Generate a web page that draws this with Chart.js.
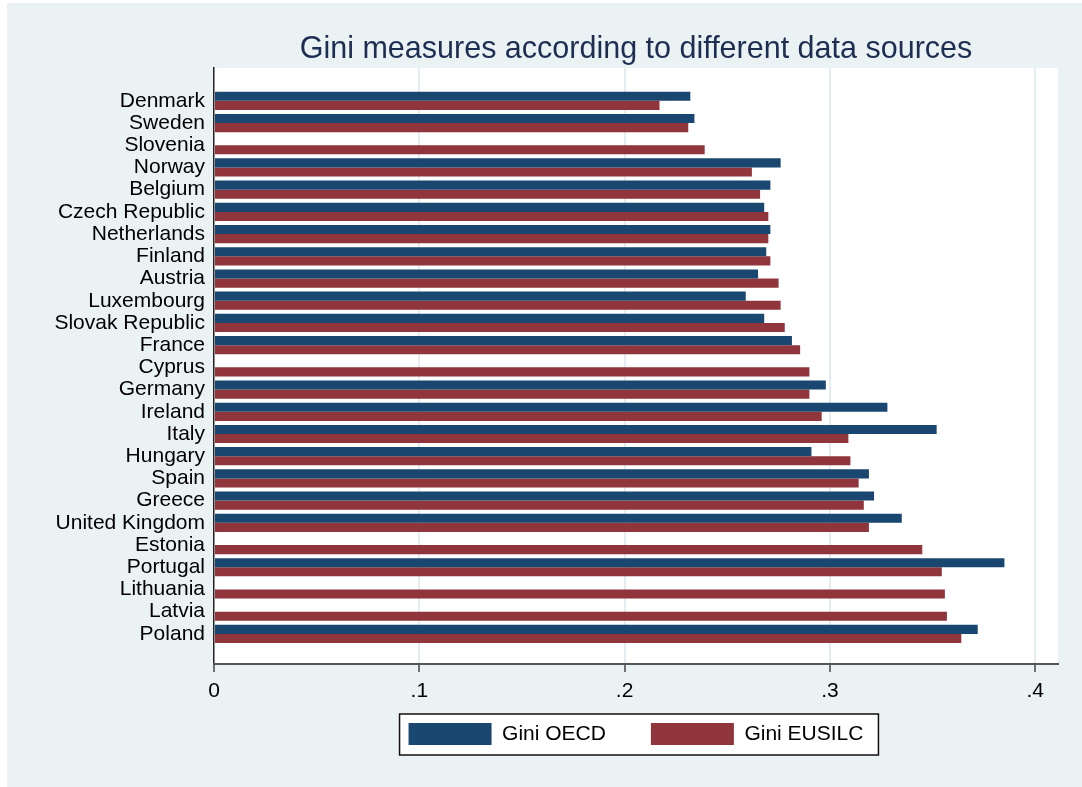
<!DOCTYPE html>
<html>
<head>
<meta charset="utf-8">
<script src="https://cdn.jsdelivr.net/npm/chart.js@4/dist/chart.umd.min.js"></script>
<style>
  body { margin: 0; background: #fff; }
  #wrap { position: absolute; left: 7px; top: 3px; }
</style>
</head>
<body>
<div id="wrap"><canvas id="gini" width="1075" height="784"></canvas></div>
<script>
// countries, top to bottom
var countries = ['Denmark', 'Sweden', 'Slovenia', 'Norway', 'Belgium', 'Czech Republic',
  'Netherlands', 'Finland', 'Austria', 'Luxembourg', 'Slovak Republic', 'France', 'Cyprus',
  'Germany', 'Ireland', 'Italy', 'Hungary', 'Spain', 'Greece', 'United Kingdom', 'Estonia',
  'Portugal', 'Lithuania', 'Latvia', 'Poland'];

// values (null = no OECD figure)
var giniOECD = [0.232, 0.234, null, 0.276, 0.271, 0.268, 0.271, 0.269, 0.265, 0.259, 0.268, 0.2815,
  null, 0.298, 0.328, 0.352, 0.291, 0.319, 0.3215, 0.335, null, 0.385, null, null, 0.372];
var giniEUSILC = [0.217, 0.231, 0.239, 0.262, 0.266, 0.270, 0.270, 0.271, 0.275, 0.276, 0.278, 0.2855,
  0.290, 0.290, 0.296, 0.309, 0.310, 0.314, 0.3165, 0.319, 0.345, 0.3545, 0.356, 0.357, 0.364];

var xTickStep = 0.1;

Chart.defaults.font.family = "'Liberation Sans', Arial, sans-serif";
Chart.defaults.color = '#000';

function toPoints(arr) {
  return arr.map(function (v, i) { return { x: v, y: i }; });
}

// rectangle round the legend, built from the legend's own hit boxes
function legendRect(chart) {
  var boxes = chart.legend && chart.legend.legendHitBoxes;
  if (!boxes || !boxes.length) return null;
  var first = boxes[0], last = boxes[boxes.length - 1];
  return {
    left: first.left - 9,
    top: first.top - 9,
    right: last.left + last.width + 15,
    bottom: first.top + first.height + 10
  };
}

var backdrop = {
  id: 'backdrop',
  // pull the legend box up so it sits just under the axis
  afterLayout: function (chart) {
    var lg = chart.legend;
    if (!lg) return;
    var shift = lg.top - (chart.chartArea.bottom + 14);
    lg.top -= shift;
    lg.bottom -= shift;
  },
  beforeDraw: function (chart) {
    var ctx = chart.ctx, a = chart.chartArea;
    ctx.save();
    ctx.fillStyle = '#EAF2F3';
    ctx.fillRect(0, 0, chart.width, chart.height);
    ctx.fillStyle = '#fff';
    ctx.fillRect(a.left, a.top, a.right - a.left, a.bottom - a.top);
    var r = legendRect(chart);
    if (r) ctx.fillRect(r.left, r.top, r.right - r.left, r.bottom - r.top);
    ctx.restore();
  },
  afterDraw: function (chart) {
    var r = legendRect(chart);
    if (!r) return;
    var ctx = chart.ctx;
    ctx.save();
    ctx.strokeStyle = '#111';
    ctx.lineWidth = 1.5;
    ctx.strokeRect(r.left, r.top, r.right - r.left, r.bottom - r.top);
    ctx.restore();
  }
};

var ctx = document.getElementById('gini');

var myChart = new Chart(ctx, {
  type: 'bar',
  data: {
    datasets: [{
      label: 'Gini OECD',
      data: toPoints(giniOECD),
      backgroundColor: '#1A476F',
      borderWidth: 0,
      categoryPercentage: 0.82,
      barPercentage: 1.0
    }, {
      label: 'Gini EUSILC',
      data: toPoints(giniEUSILC),
      backgroundColor: '#90353B',
      borderWidth: 0,
      categoryPercentage: 0.82,
      barPercentage: 1.0
    }]
  },
  options: {
    indexAxis: 'y',
    responsive: false,
    animation: false,
    layout: { padding: { left: 0, right: 24, top: 0, bottom: 0 } },
    scales: {
      y: {
        type: 'linear',
        reverse: true,
        offset: false,
        min: -1.474,
        max: 25.356,
        afterFit: function (s) { s.width = 207; },
        grid: { display: false, drawTicks: false },
        border: { display: true, color: '#222', width: 1.5 },
        ticks: {
          stepSize: 1,
          autoSkip: false,
          includeBounds: false,
          padding: 9,
          font: { size: 21, lineHeight: 1 },
          callback: function (v) {
            return (Number.isInteger(v) && countries[v]) ? countries[v] : '';
          }
        }
      },
      x: {
        type: 'linear',
        offset: false,
        min: 0,
        max: 0.4111,
        grid: {
          color: function (c) { return c.tick && c.tick.value === 0 ? 'rgba(0,0,0,0)' : '#E3ECEF'; },
          lineWidth: 2,
          tickLength: 8,
          tickColor: '#444',
          tickWidth: 1.5
        },
        border: { display: true, color: '#555', width: 2 },
        ticks: {
          stepSize: xTickStep,
          includeBounds: false,
          autoSkip: false,
          minRotation: 0,
          maxRotation: 0,
          padding: 8.5,
          font: { size: 21, lineHeight: 1 },
          callback: function (v) {
            var r = Math.round(v * 10) / 10;
            return r === 0 ? '0' : String(r).replace(/^0\./, '.');
          }
        }
      }
    },
    plugins: {
      title: {
        display: true,
        text: 'Gini measures according to different data sources',
        fullSize: false,
        color: '#1E2D52',
        font: { size: 30.5, weight: 'normal' },
        padding: { top: 28.5, bottom: 0 }
      },
      legend: {
        position: 'bottom',
        fullSize: false,
        labels: {
          boxWidth: 83,
          boxHeight: 22,
          padding: 45,
          color: '#000',
          font: { size: 21 }
        }
      },
      tooltip: { enabled: false }
    }
  },
  plugins: [backdrop]
});
</script>
</body>
</html>
